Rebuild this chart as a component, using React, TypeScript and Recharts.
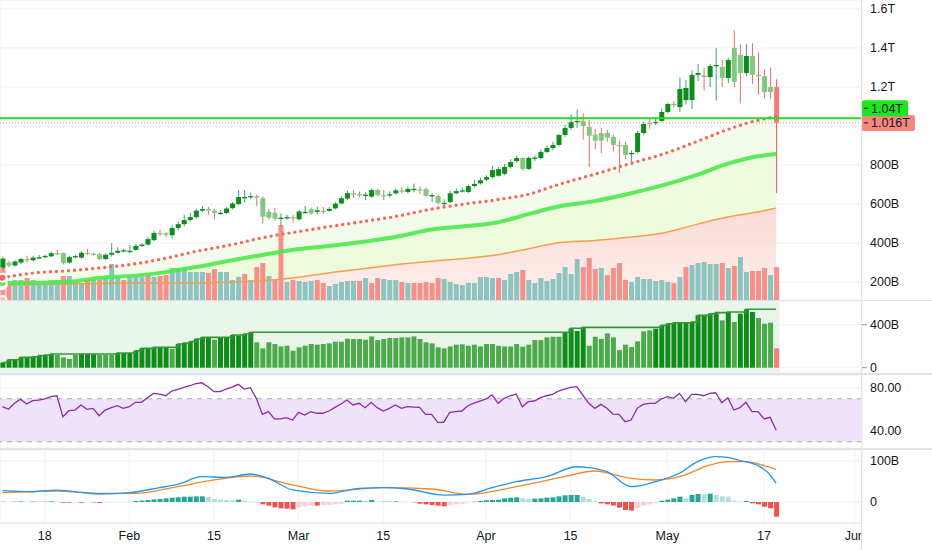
import React from "react";
import {
  ComposedChart,
  Bar,
  Line,
  Area,
  XAxis,
  YAxis,
  CartesianGrid,
  ReferenceLine,
  ReferenceArea,
  Cell,
} from "recharts";

// x positions are day indexes counted from Jan 11
const dayTicks = [7, 21, 35, 49, 63, 80, 94, 110, 126, 141];
const dayLabels = ["18", "Feb", "15", "Mar", "15", "Apr", "15", "May", "17", "Jun"];

// daily candles, values in B
const opens = [
  275, 300, 285, 300, 318, 312, 325, 327, 332, 348,
  348, 300, 328, 325, 350, 345, 343, 318, 340, 350,
  360, 360, 365, 385, 392, 415, 452, 450, 440, 477,
  497, 518, 533, 566, 574, 566, 555, 554, 579, 600,
  636, 636, 640, 630, 560, 555, 528, 530, 533, 522,
  560, 574, 560, 565, 565, 578, 603, 628, 655, 651,
  646, 638, 672, 646, 645, 655, 670, 662, 677, 675,
  677, 645, 641, 606, 610, 655, 666, 662, 692, 706,
  725, 738, 745, 755, 790, 820, 836, 780, 836, 836,
  867, 887, 903, 954, 990, 1021, 1026, 995, 955, 964,
  965, 944, 903, 903, 862, 867, 964, 1016, 1016, 1026,
  1072, 1113, 1097, 1133, 1133, 1262, 1260, 1251, 1310, 1303,
  1246, 1400, 1364, 1272, 1359, 1262, 1256, 1200, 1200,
];
const highs = [
  330, 310, 312, 325, 335, 335, 338, 340, 356, 365,
  352, 335, 342, 358, 370, 352, 348, 348, 400, 378,
  372, 390, 395, 398, 430, 462, 470, 455, 490, 510,
  545, 555, 575, 590, 585, 575, 568, 584, 610, 672,
  672, 660, 648, 640, 575, 580, 552, 545, 545, 570,
  590, 582, 588, 585, 585, 610, 640, 668, 670, 665,
  660, 680, 680, 672, 665, 680, 685, 690, 705, 690,
  685, 655, 648, 625, 668, 680, 685, 700, 725, 735,
  748, 795, 790, 805, 830, 850, 840, 845, 850, 880,
  900, 920, 960, 1005, 1060, 1085, 1065, 1030, 985, 990,
  980, 955, 925, 920, 875, 975, 1020, 1040, 1045, 1090,
  1120, 1128, 1251, 1235, 1285, 1318, 1300, 1318, 1400, 1340,
  1350, 1490, 1420, 1420, 1425, 1380, 1290, 1300, 1240,
];
const lows = [
  265, 275, 280, 292, 300, 305, 318, 322, 328, 338,
  290, 293, 322, 320, 338, 336, 312, 312, 330, 345,
  352, 350, 360, 380, 388, 410, 435, 430, 425, 465,
  485, 510, 525, 560, 545, 520, 545, 548, 572, 595,
  610, 625, 590, 500, 520, 515, 485, 520, 505, 515,
  550, 545, 548, 550, 560, 572, 598, 620, 630, 635,
  620, 632, 640, 620, 635, 648, 655, 655, 660, 650,
  635, 610, 598, 585, 605, 650, 660, 655, 685, 700,
  718, 730, 740, 748, 782, 812, 770, 775, 820, 828,
  860, 875, 895, 945, 980, 990, 930, 790, 880, 860,
  920, 870, 760, 830, 800, 860, 955, 985, 1005, 1020,
  1065, 1095, 1072, 1110, 1088, 1230, 1180, 1200, 1130, 1200,
  1220, 1200, 1118, 1255, 1215, 1160, 1140, 1140, 656,
];
const closes = [
  320, 285, 305, 318, 314, 325, 327, 334, 348, 345,
  298, 328, 333, 350, 345, 343, 318, 340, 350, 360,
  363, 360, 385, 392, 420, 452, 450, 442, 477, 497,
  518, 533, 566, 574, 566, 555, 555, 577, 603, 636,
  636, 641, 632, 535, 530, 525, 530, 533, 530, 562,
  560, 552, 568, 563, 575, 602, 630, 656, 651, 646,
  648, 672, 646, 645, 650, 670, 668, 677, 678, 672,
  642, 646, 606, 606, 655, 666, 670, 692, 703, 722,
  738, 774, 779, 790, 815, 836, 780, 836, 838, 867,
  887, 903, 954, 990, 1021, 1026, 1000, 950, 925, 925,
  940, 903, 900, 851, 862, 964, 1010, 1010, 1021, 1072,
  1113, 1108, 1190, 1195, 1262, 1272, 1251, 1308, 1313, 1246,
  1338, 1226, 1272, 1359, 1262, 1260, 1174, 1174, 1016,
];
const redCandles = [128];

// volume overlay (relative units) and its direction, r = sell / g = buy
const volume = [
  33, 18, 20, 20, 22, 20, 17, 17, 20, 20,
  24, 24, 17, 17, 20, 20, 20, 23, 36, 23,
  20, 23, 23, 23, 25, 23, 24, 25, 32, 32,
  33, 28, 28, 28, 27, 31, 28, 28, 20, 23,
  26, 20, 33, 37, 24, 20, 75, 18, 20, 19,
  18, 19, 20, 17, 14, 16, 18, 19, 19, 19,
  22, 17, 22, 21, 20, 20, 18, 17, 17, 17,
  18, 17, 22, 21, 18, 16, 15, 17, 17, 23,
  23, 22, 22, 20, 26, 28, 30, 20, 17, 22,
  19, 21, 27, 33, 26, 41, 33, 42, 31, 32,
  25, 32, 37, 20, 18, 23, 21, 21, 19, 20,
  18, 17, 23, 33, 35, 37, 38, 36, 36, 37,
  32, 34, 43, 28, 29, 29, 32, 25, 33,
];
const volumeSide =
  "rrggrggggg" + "rgggrgrggg" + "rgggrgrrgg" + "ggggrrgggg" + "rgrrgrrgrg" +
  "ggrrgggggr" + "grrgggrgrr" + "rrrggggggg" + "ggrgggrggg" + "ggggggrrrg" +
  "rrrrgggggg" + "grgrgggggr" + "grggrrrgr";

// moving averages, read at sample days
const maDays = [0, 5, 11, 16, 22, 27, 32, 38, 43, 49, 54, 60, 65, 71, 76, 82, 87, 92, 98, 104, 109, 115, 120, 125, 128];
const maFast = [222, 246, 258, 272, 294, 322, 357, 392, 427, 459, 484, 512, 536, 574, 598, 623, 650, 700, 753, 809, 853, 922, 982, 1030, 1048];
const maMid = [195, 195, 201, 221, 233, 251, 277, 312, 339, 369, 385, 408, 431, 469, 485, 507, 548, 587, 615, 655, 694, 751, 807, 845, 856];
const maSlow = [185, 188, 190, 193, 195, 195, 195, 200, 207, 225, 247, 270, 289, 307, 320, 340, 371, 401, 413, 431, 450, 497, 533, 560, 579];

// lower pane: cumulative flow bars (B) and its running high
const flow = [
  49, 74, 74, 96, 90, 102, 112, 118, 127, 118,
  96, 81, 118, 127, 127, 127, 118, 118, 118, 137,
  137, 137, 158, 180, 180, 189, 189, 189, 174, 220,
  230, 242, 267, 282, 282, 260, 282, 282, 304, 300,
  313, 329, 236, 180, 236, 220, 198, 204, 158, 189,
  204, 220, 214, 220, 226, 242, 242, 270, 267, 267,
  260, 291, 257, 267, 276, 276, 282, 282, 291, 267,
  236, 226, 189, 180, 198, 214, 217, 204, 214, 198,
  220, 220, 204, 198, 198, 220, 195, 214, 257, 257,
  282, 288, 288, 325, 366, 341, 375, 204, 288, 267,
  319, 282, 164, 214, 192, 245, 338, 347, 362, 393,
  409, 418, 418, 418, 424, 486, 486, 502, 512, 440,
  518, 424, 502, 543, 518, 462, 409, 418, 180,
];
const flowHighDays = [0, 1, 3, 5, 6, 7, 8, 19, 22, 23, 25, 29, 30, 31, 32, 33, 38, 40, 41, 94, 96, 109, 110, 111, 114, 115, 117, 118, 120, 123, 128];
const flowHighValues = [49, 74, 96, 102, 112, 118, 127, 137, 158, 180, 189, 220, 230, 242, 267, 282, 304, 313, 329, 366, 375, 393, 409, 418, 424, 486, 502, 512, 518, 543, 543];

// RSI
const rsi = [
  62.6, 60.2, 65.8, 69.5, 65.1, 68.2, 68.8, 69.8, 71.9, 72.8,
  53.3, 58.9, 59.5, 64.2, 60.2, 61.1, 54.2, 59.5, 61.7, 63.5,
  61.1, 62.6, 66.7, 66.7, 71, 75, 74.4, 72.8, 77.2, 78.8,
  80.6, 82.1, 84, 84.9, 81.2, 76.6, 76.6, 79, 80.9, 83.4,
  79, 80.3, 70.4, 55.5, 58, 51.2, 51.2, 52.4, 50.2, 57.4,
  54.9, 58, 56.5, 56.5, 58.6, 62, 65.1, 68.8, 64.2, 65.8,
  61.7, 66.7, 61.7, 58.6, 61.1, 64.2, 61.1, 62.6, 62.3, 62,
  55.5, 55.5, 48.1, 48.1, 57.4, 58, 58.6, 63.5, 66, 67.9,
  69.8, 73.5, 65.8, 70.4, 72.8, 74.4, 62.6, 67.3, 67.9, 71,
  72.8, 74.1, 77.2, 79, 80.6, 81.2, 73.5, 65.8, 61.1, 64.8,
  61.1, 55.8, 55.5, 48.7, 50.2, 61.1, 64.8, 65.8, 65.8, 69.8,
  71.9, 70.4, 75, 67.3, 74.1, 74.1, 72.8, 75, 75.6, 66.3,
  71, 59.5, 61.7, 66.7, 58, 58, 51.2, 52.7, 40.9,
];

// MACD (B)
const macdHist = [
  0.8, 0.5, 0.8, 1.2, 0.5, 1.2, 0.8, 0.8, 1.6, 1.2,
  -1.6, -1.6, -1.2, -1.6, -0.8, -0.8, -2.4, -0.8, -0.5, -0.4,
  -0.3, 0.4, 2.4, 3.3, 4.9, 6.5, 7.3, 8.9, 10.6, 11.4,
  13, 13, 13.8, 13.8, 12.2, 7.3, 5.7, 4.9, 4, 5.7,
  3.3, 1.6, -0.5, -5.7, -8.9, -13, -15.4, -16.3, -17.9, -13,
  -10.6, -8.9, -8.9, -8.1, -7.3, -5.7, -4.1, 3.3, 3.3, 3.3,
  2.4, 4.9, 0.8, 0.8, 0.8, 1.6, 0.8, 0.3, -0.8, -4.1,
  -5.7, -7.3, -8.9, -10.6, -7.3, -5.7, -4.1, -0.8, 0.8, 2.4,
  4.1, 4.9, 5.7, 8.9, 10.6, 11.4, 8.9, 7.3, 8.1, 8.9,
  10.6, 11.4, 13.8, 16.3, 17.1, 17.1, 13, 7.3, 1.6, -3.3,
  -5.7, -8.9, -13.8, -19.5, -21, -15.4, -8.9, -5.7, -2.4, 3.3,
  5.7, 8.9, 13, 8.9, 17.1, 19.5, 18.7, 20.3, 17.1, 13.8,
  13, 3.3, 0.8, 2.4, -3.3, -5.7, -11.4, -15.4, -35.8,
];
const macdDays = [0, 5, 9, 16, 21, 26, 29, 33, 37, 41, 44, 48, 54, 59, 63, 67, 73, 77, 81, 85, 90, 95, 97, 100, 104, 108, 112, 115, 118, 120, 122, 125, 127, 128];
const macdValues = [27.6, 25, 29, 19.5, 22.8, 35, 43, 61.8, 60.2, 68.3, 57.7, 29.3, 21, 33.3, 35, 31.7, 17, 18.7, 35, 49.6, 61.8, 86, 84, 74, 37.4, 49.6, 70, 98.3, 110.5, 109, 100.8, 88.6, 65.9, 45.5];
const signalDays = [0, 9, 16, 22, 29, 35, 41, 48, 54, 63, 71, 77, 85, 93, 98, 104, 108, 112, 117, 120, 123, 126, 128];
const signalValues = [22.8, 26.8, 21.1, 21, 37.4, 53.7, 63.4, 41.5, 26.8, 35, 31.7, 19, 37.4, 61.8, 75.6, 57.7, 53.7, 61.8, 90, 98.3, 98.3, 88.6, 79.7];

const priceTicks = [200, 400, 600, 800, 1000, 1200, 1400, 1600];

const candles = opens.map((o, i) => ({
  i,
  open: o,
  high: highs[i],
  low: lows[i],
  close: closes[i],
  vol: volume[i],
  side: volumeSide[i],
  flow: flow[i],
  rsi: rsi[i],
  hist: macdHist[i],
}));
const maData = maDays.map((d, k) => ({ i: d, fast: maFast[k], mid: maMid[k], slow: maSlow[k] }));
const flowHigh = flowHighDays.map((d, k) => ({ i: d, v: flowHighValues[k] }));
const macdData = macdDays.map((d, k) => ({ i: d, v: macdValues[k] }));
const signalData = signalDays.map((d, k) => ({ i: d, v: signalValues[k] }));

const X_DOMAIN: [number, number] = [-0.4, 142.2];
const PRICE_MIN = 108;
const AXIS_W = 70;
const W = 932;
const TEXT = "#131722";
const GRID = "#eef0f3";
const tickStyle = { fontSize: 12.5, fill: TEXT };

const Candle = (props: any) => {
  const { x, y, width, height, payload } = props;
  if (x == null || !payload) return null;
  const { open, close, high, low, i } = payload;
  const top = Math.min(y, y + height);
  const span = Math.abs(height);
  const toY = (v: number) => (high === low ? top : top + ((high - v) / (high - low)) * span);
  const up = close >= open;
  const red = redCandles.includes(i);
  const body = red ? "#f47c7c" : up ? "#0f8c1a" : "#80c980";
  const wick = red ? "#ef5350" : up ? "#3a9e8c" : "#ef6b6b";
  const cx = x + width / 2;
  const yo = toY(open);
  const yc = toY(close);
  const bt = Math.min(yo, yc);
  const bh = Math.max(Math.abs(yo - yc), 1.3);
  return (
    <g>
      <line x1={cx} x2={cx} y1={top} y2={top + span} stroke={wick} strokeWidth={1} />
      <rect x={x} y={bt} width={width} height={bh} fill={body} />
    </g>
  );
};

const PriceBadge = (props: any) => {
  const { viewBox, text, fill, shift, w } = props;
  if (!viewBox) return null;
  const x = viewBox.x + viewBox.width;
  const y = viewBox.y + shift;
  return (
    <g>
      <rect x={x} y={y - 8} width={w} height={16} rx={2} fill={fill} />
      <line x1={x + 2} x2={x + 6} y1={y} y2={y} stroke={TEXT} strokeWidth={1} />
      <text x={x + 9} y={y} dy="0.35em" fontSize={12.5} fill={TEXT}>
        {text}
      </text>
    </g>
  );
};

const priceLabel = (v: number) => (v === 1000 ? "" : v > 1000 ? `${(v / 1000).toFixed(1)}T` : `${v}B`);

function DayAxis({ show }: { show?: boolean }) {
  if (show) {
    return (
      <XAxis
        dataKey="i"
        type="number"
        domain={X_DOMAIN}
        ticks={dayTicks}
        allowDataOverflow
        interval={0}
        tickLine={false}
        axisLine={{ stroke: "#e0e3eb" }}
        tick={tickStyle}
        tickFormatter={(v: number) => dayLabels[dayTicks.indexOf(v)]}
        height={27}
      />
    );
  }
  return (
    <XAxis
      dataKey="i"
      type="number"
      domain={X_DOMAIN}
      ticks={dayTicks}
      allowDataOverflow
      tick={false}
      tickLine={false}
      axisLine={false}
      height={0}
    />
  );
}

function PricePane() {
  return (
    <ComposedChart width={W} height={300} data={candles} margin={{ top: 0, right: 0, bottom: 0, left: 0 }}>
      <defs>
        <linearGradient id="pinkFill" x1="0" y1="0" x2="0" y2="1">
          <stop offset="0" stopColor="#fbcfc9" stopOpacity={0.75} />
          <stop offset="1" stopColor="#fde3df" stopOpacity={0.6} />
        </linearGradient>
      </defs>
      <CartesianGrid stroke={GRID} />
      {DayAxis({})}
      <XAxis xAxisId="vol" dataKey="i" type="number" domain={X_DOMAIN} allowDataOverflow hide />
      <YAxis
        orientation="right"
        width={AXIS_W}
        domain={[PRICE_MIN, 1646]}
        ticks={priceTicks}
        allowDataOverflow
        tickLine={false}
        axisLine={false}
        tick={tickStyle}
        tickFormatter={priceLabel}
      />
      <YAxis yAxisId="vol" hide domain={[0, 300]} />
      <Area data={maData} dataKey={(d: any) => [PRICE_MIN, d.slow]} type="monotone" stroke="none" fill="url(#pinkFill)" fillOpacity={1} isAnimationActive={false} />
      <Area data={maData} dataKey={(d: any) => [d.slow, d.mid]} type="monotone" stroke="none" fill="#ebf9d8" fillOpacity={0.9} isAnimationActive={false} />
      <Area data={maData} dataKey={(d: any) => [d.mid, d.fast]} type="monotone" stroke="none" fill="#f2fbe8" fillOpacity={0.9} isAnimationActive={false} />
      <Bar xAxisId="vol" yAxisId="vol" dataKey="vol" barSize={5} isAnimationActive={false}>
        {candles.map((d) => (
          <Cell key={d.i} fill={d.side === "r" ? "#f4918b" : "#8cc5bf"} />
        ))}
      </Bar>
      <Line data={maData} dataKey="slow" type="monotone" stroke="#f2a04e" strokeWidth={1.5} dot={false} isAnimationActive={false} />
      <Line data={maData} dataKey="mid" type="monotone" stroke="#4ee84e" strokeWidth={4} strokeOpacity={0.9} dot={false} isAnimationActive={false} />
      <Line
        data={maData}
        dataKey="fast"
        type="monotone"
        stroke="#ef6a5a"
        strokeWidth={3.4}
        strokeDasharray="0 6.05"
        strokeLinecap="round"
        dot={false}
        isAnimationActive={false}
      />
      <Bar dataKey={(d: any) => [d.low, d.high]} shape={<Candle />} barSize={5} isAnimationActive={false} />
      <ReferenceLine
        y={1016}
        stroke="#f28b82"
        strokeDasharray="1 2"
        label={<PriceBadge text="1.016T" fill="#f5877f" shift={0} w={53} />}
      />
      <ReferenceLine
        y={1040}
        stroke="#22dd22"
        strokeWidth={2}
        label={<PriceBadge text="1.04T" fill="#1ee61e" shift={-10} w={46} />}
      />
    </ComposedChart>
  );
}

function FlowPane() {
  let runMax = 0;
  const colors = candles.map((d) => {
    runMax = Math.max(runMax, d.flow);
    if (redCandles.includes(d.i)) return "#f47c7c";
    return d.flow >= runMax * 0.93 ? "#0f8c1a" : "#4caa4c";
  });
  return (
    <ComposedChart width={W} height={78} data={candles} margin={{ top: 0, right: 0, bottom: 7, left: 0 }}>
      <CartesianGrid stroke={GRID} />
      {DayAxis({})}
      <YAxis
        orientation="right"
        width={AXIS_W}
        domain={[-40, 620]}
        ticks={[0, 400]}
        allowDataOverflow
        tickLine={{ stroke: "#9598a1" }}
        tickSize={5}
        tickMargin={3}
        axisLine={false}
        tick={tickStyle}
        tickFormatter={(v: number) => (v === 0 ? "0" : `${v}B`)}
      />
      <ReferenceArea x1={-0.4} x2={128.6} y1={-40} y2={620} fill="#e3f2e1" fillOpacity={0.75} stroke="none" />
      <Bar dataKey="flow" barSize={5} isAnimationActive={false}>
        {candles.map((d, k) => (
          <Cell key={d.i} fill={colors[k]} />
        ))}
      </Bar>
      <Line data={flowHigh} dataKey="v" type="stepAfter" stroke="#2f9a35" strokeWidth={1.6} dot={false} isAnimationActive={false} />
    </ComposedChart>
  );
}

function RsiPane() {
  return (
    <ComposedChart width={W} height={73} data={candles} margin={{ top: 0, right: 0, bottom: 0, left: 0 }}>
      <CartesianGrid stroke={GRID} />
      {DayAxis({})}
      <YAxis
        orientation="right"
        width={AXIS_W}
        domain={[24.2, 92.1]}
        ticks={[40, 80]}
        allowDataOverflow
        tickLine={false}
        axisLine={false}
        tick={tickStyle}
        tickFormatter={(v: number) => v.toFixed(2)}
      />
      <ReferenceArea y1={30} y2={70} fill="#efe3fc" fillOpacity={1} stroke="none" />
      <ReferenceLine y={70} stroke="#a9acb4" strokeDasharray="5 5" />
      <ReferenceLine y={30} stroke="#a9acb4" strokeDasharray="5 5" />
      <Line dataKey="rsi" type="linear" stroke="#8e2ba8" strokeWidth={1.3} dot={false} isAnimationActive={false} />
    </ComposedChart>
  );
}

function MacdPane() {
  const histColor = (k: number) => {
    const v = macdHist[k];
    const prev = k > 0 ? macdHist[k - 1] : 0;
    if (v >= 0) return v >= prev ? "#26a69a" : "#b2dfdb";
    return v <= prev ? "#ef5350" : "#ffcdd2";
  };
  return (
    <ComposedChart width={W} height={100} data={candles} margin={{ top: 0, right: 0, bottom: 0, left: 0 }}>
      <CartesianGrid stroke={GRID} />
      {DayAxis({ show: true })}
      <YAxis
        orientation="right"
        width={AXIS_W}
        domain={[-51.2, 126.8]}
        ticks={[0, 100]}
        allowDataOverflow
        tickLine={false}
        axisLine={false}
        tick={tickStyle}
        tickFormatter={(v: number) => (v === 0 ? "0" : `${v}B`)}
      />
      <Bar dataKey="hist" barSize={5} isAnimationActive={false}>
        {candles.map((d, k) => (
          <Cell key={d.i} fill={histColor(k)} />
        ))}
      </Bar>
      <Line data={signalData} dataKey="v" type="monotone" stroke="#f7862a" strokeWidth={1.3} dot={false} isAnimationActive={false} />
      <Line data={macdData} dataKey="v" type="monotone" stroke="#2196f3" strokeWidth={1.3} dot={false} isAnimationActive={false} />
    </ComposedChart>
  );
}

const rule = (style: React.CSSProperties) => <div style={{ position: "absolute", background: "#e0e3eb", ...style }} />;

export default function App() {
  return (
    <div
      style={{
        position: "absolute",
        left: 0,
        top: 0,
        width: W,
        height: 550,
        background: "#ffffff",
        overflow: "hidden",
        fontFamily: "'Liberation Sans', Arial, sans-serif",
      }}
    >
      <div style={{ position: "absolute", left: 0, top: 0 }}>
        <PricePane />
      </div>
      <div style={{ position: "absolute", left: 0, top: 301 }}>
        <FlowPane />
      </div>
      <div style={{ position: "absolute", left: 0, top: 375 }}>
        <RsiPane />
      </div>
      <div style={{ position: "absolute", left: 0, top: 450 }}>
        <MacdPane />
      </div>
      <div style={{ position: "absolute", left: 862, top: 524, width: 70, height: 26, background: "#fff" }} />
      {rule({ left: 0, top: 300, width: W, height: 1 })}
      {rule({ left: 0, top: 373, width: W, height: 2 })}
      {rule({ left: 0, top: 448, width: W, height: 2 })}
      {rule({ left: 861, top: 0, width: 1, height: 550 })}
    </div>
  );
}
